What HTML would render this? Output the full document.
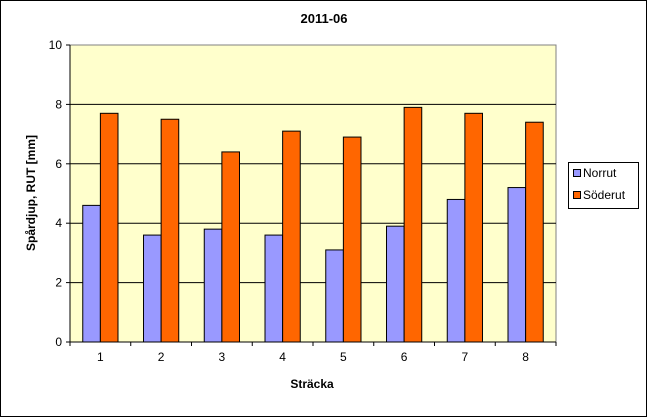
<!DOCTYPE html>
<html><head><meta charset="utf-8"><style>
body{margin:0;background:#fff;}
svg{display:block;font-family:"Liberation Sans",Arial,sans-serif;}
</style></head><body>
<svg id="c" width="648" height="418">
<rect x="0.5" y="0.5" width="646" height="416" fill="#fff" stroke="#000"/>
<text x="324" y="23" text-anchor="middle" font-size="13" font-weight="bold">2011-06</text>
<g id="plot"></g>
<text x="312" y="388" text-anchor="middle" font-size="12" font-weight="bold">Sträcka</text>
<text transform="translate(35,193) rotate(-90)" text-anchor="middle" font-size="12" font-weight="bold">Spårdjup, RUT [mm]</text>
<g>
<rect x="568.5" y="162.5" width="70" height="46" fill="#fff" stroke="#000"/>
<g><rect x="573.5" y="169.5" width="7" height="7" fill="#9999ff" stroke="#000"/><text x="583" y="177" font-size="12">Norrut</text></g>
<g><rect x="573.5" y="191.5" width="7" height="7" fill="#ff6600" stroke="#000"/><text x="583" y="199" font-size="12">Söderut</text></g>
</g>
</svg>
<script>
const categories=["1","2","3","4","5","6","7","8"];
const norrut=[4.6,3.6,3.8,3.6,3.1,3.9,4.8,5.2];
const soderut=[7.7,7.5,6.4,7.1,6.9,7.9,7.7,7.4];
const yTicks=[0,2,4,6,8,10];
const L=70,R=556,T=45,B=342,yMax=10;
const y=v=>B-(v/yMax)*(B-T);
const cw=(R-L)/categories.length;
const x=i=>L+i*cw;
const ns="http://www.w3.org/2000/svg";
const g=document.getElementById('plot');
function mk(t,a){const e=document.createElementNS(ns,t);for(const k in a)e.setAttribute(k,a[k]);g.appendChild(e);return e;}
const bg=mk('rect',{x:L,y:T,width:R-L,height:B-T,fill:'#ffffcc',stroke:'#808080'});


yTicks.forEach(t=>{
 if(t>0&&t<yMax){const gl=mk('line',{x1:L,x2:R,y1:y(t),y2:y(t),stroke:'#000','stroke-width':1});
 
 }
 mk('line',{x1:L-4,x2:L,y1:y(t),y2:y(t),stroke:'#000'});
 const tx=mk('text',{x:L-8,y:y(t)+4,'text-anchor':'end','font-size':12});
 tx.textContent=t;
 
 
});
const bw=cw*0.29;
categories.forEach((c,i)=>{
 const cx=x(i)+cw/2;
 const b1=mk('rect',{x:cx-bw,y:y(norrut[i]),width:bw,height:B-y(norrut[i]),fill:'#9999ff',stroke:'#000'});
 
 
 const b2=mk('rect',{x:cx,y:y(soderut[i]),width:bw,height:B-y(soderut[i]),fill:'#ff6600',stroke:'#000'});
 
 
 mk('line',{x1:x(i),x2:x(i),y1:B,y2:B+4,stroke:'#000'});
 const tx=mk('text',{x:cx,y:B+19,'text-anchor':'middle','font-size':12});
 tx.textContent=c;
 
 
});
mk('line',{x1:R,x2:R,y1:B,y2:B+4,stroke:'#000'});
mk('line',{x1:L,x2:R,y1:B,y2:B,stroke:'#000'});
mk('line',{x1:L,x2:L,y1:T,y2:B,stroke:'#000'});
</script>
</body></html>
